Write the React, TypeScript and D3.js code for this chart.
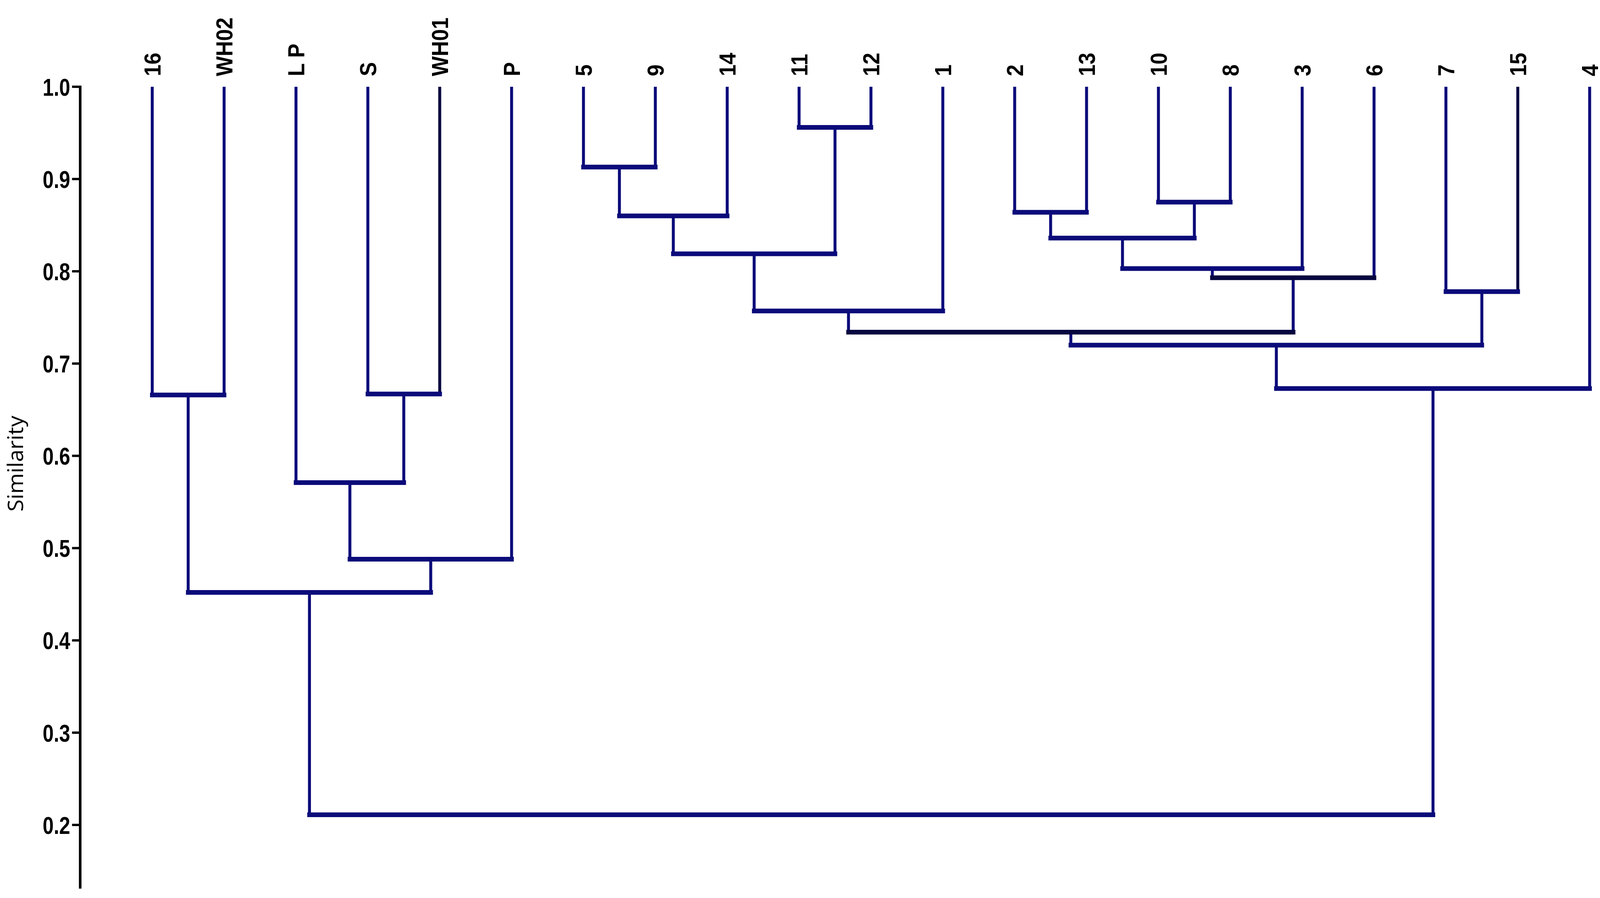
import React from "react";
import * as d3 from "d3";

const leaves = ["16", "WH02", "L P", "S", "WH01", "P", "5", "9", "14", "11", "12", "1", "2", "13", "10", "8", "3", "6", "7", "15", "4"];

// merges: left child, right child, similarity; internal clusters referenced as "n<index>"
const mergeLeft = ["16", "S", "L P", "n2", "n0", "5", "n5", "11", "n6", "n8", "2", "10", "n10", "n12", "n13", "n9", "7", "n15", "n17", "n4"];
const mergeRight = ["WH02", "WH01", "n1", "P", "n3", "9", "14", "12", "n7", "1", "13", "8", "n11", "3", "6", "n14", "15", "n16", "4", "n18"];
const mergeSim = [0.666, 0.667, 0.571, 0.488, 0.452, 0.913, 0.86, 0.956, 0.819, 0.757, 0.864, 0.875, 0.836, 0.803, 0.793, 0.734, 0.778, 0.72, 0.673, 0.211];
const darkBars = ["n14", "n15"];
const darkLegs = ["WH01", "15"];

const yTicks = [1.0, 0.9, 0.8, 0.7, 0.6, 0.5, 0.4, 0.3, 0.2];

const W = 4330;
const H = 2298;
const NAVY = "#0b0b7a";
const DARK = "#070740";
const FONT = "'Liberation Sans', Arial, sans-serif";

export default function App() {
  const x = d3.scalePoint<string>().domain(leaves).range([412, 4302]);
  const y = d3.scaleLinear().domain([1.0, 0.2]).range([222, 2111]);
  const axisX = 217;
  const axisBottom = y(0.131);

  const pos: Record<string, { x: number; s: number }> = {};
  leaves.forEach((l) => (pos[l] = { x: x(l) as number, s: 1.0 }));
  mergeSim.forEach((s, i) => {
    const a = pos[mergeLeft[i]];
    const b = pos[mergeRight[i]];
    pos["n" + i] = { x: (a.x + b.x) / 2, s };
  });

  const verticals: { x: number; y1: number; y2: number; key: string; dark: boolean }[] = [];
  const bars: { x1: number; x2: number; y: number; key: string; dark: boolean }[] = [];
  mergeSim.forEach((s, i) => {
    const a = pos[mergeLeft[i]];
    const b = pos[mergeRight[i]];
    const ym = y(s);
    verticals.push({ x: a.x, y1: y(a.s), y2: ym, key: "vl" + i, dark: darkLegs.includes(mergeLeft[i]) });
    verticals.push({ x: b.x, y1: y(b.s), y2: ym, key: "vr" + i, dark: darkLegs.includes(mergeRight[i]) });
    bars.push({ x1: a.x, x2: b.x, y: ym, key: "h" + i, dark: darkBars.includes("n" + i) });
  });

  return (
    <svg
      viewBox={`0 0 ${W} ${H}`}
      preserveAspectRatio="none"
      style={{ position: "fixed", left: 0, top: 0, width: "100vw", height: "100vh", background: "#fff", display: "block" }}
    >
      <rect x={0} y={0} width={W} height={H} fill="#fff" />
      {/* y axis */}
      <line x1={axisX} x2={axisX} y1={y(1.0) - 3} y2={axisBottom} stroke="#000" strokeWidth={7} />
      {yTicks.map((t) => (
        <g key={t}>
          <line x1={axisX - 22} x2={axisX} y1={y(t)} y2={y(t)} stroke="#000" strokeWidth={6} />
          <text
            transform={`translate(190, ${y(t)}) scale(0.85, 1)`}
            dy="0.36em"
            textAnchor="end"
            fontFamily={FONT}
            fontWeight="bold"
            fontSize={63}
            fill="#000"
          >
            {t.toFixed(1)}
          </text>
        </g>
      ))}
      <text
        transform={`translate(42, ${y(0.6) + 20}) rotate(-90)`}
        textAnchor="middle"
        dy="0.36em"
        fontFamily="'Open Sans', sans-serif"
        fontSize={57}
        fill="#000"
      >
        Similarity
      </text>
      {/* dendrogram */}
      {verticals.map((v) => (
        <line key={v.key} x1={v.x} x2={v.x} y1={v.y1} y2={v.y2} stroke={v.dark ? DARK : NAVY} strokeWidth={8} />
      ))}
      {bars.map((b) => (
        <line
          key={b.key}
          x1={b.x1}
          x2={b.x2}
          y1={b.y}
          y2={b.y}
          stroke={b.dark ? DARK : NAVY}
          strokeWidth={12}
          strokeLinecap="square"
        />
      ))}
      {/* leaf labels */}
      {leaves.map((l) => (
        <text
          key={l}
          transform={`translate(${x(l)}, 195) rotate(-90) scale(0.86, 1)`}
          dy="0.36em"
          textAnchor="start"
          fontFamily={FONT}
          fontWeight="bold"
          fontSize={63}
          fill="#000"
        >
          {l}
        </text>
      ))}
    </svg>
  );
}
